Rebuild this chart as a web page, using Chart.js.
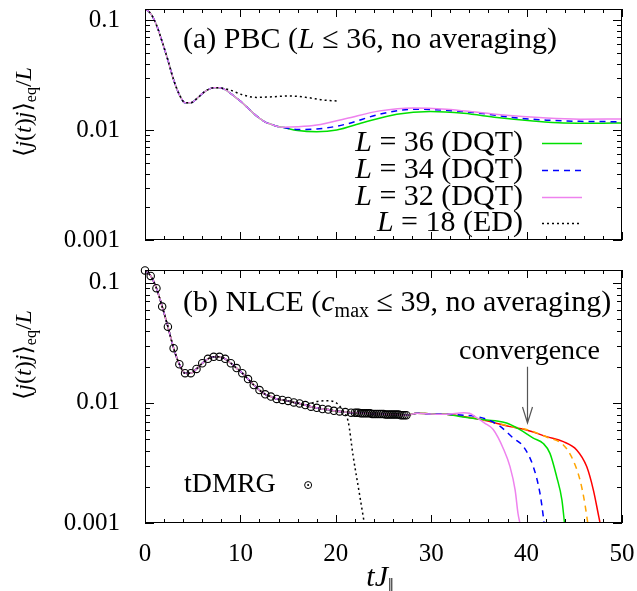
<!DOCTYPE html>
<html>
<head>
<meta charset="utf-8">
<script src="https://cdn.jsdelivr.net/npm/chart.js@4.4.1/dist/chart.umd.min.js"></script>
<style>
  body { margin: 0; background: #fff; }
  #wrap { position: relative; width: 637px; height: 591px; }
  canvas { position: absolute; left: 0; }
</style>
</head>
<body>
<div id="wrap">
  <canvas id="topChart" width="637" height="250" style="top:0"></canvas>
  <canvas id="botChart" width="637" height="341" style="top:250px"></canvas>
</div>
<script>
const earlyT = [0,0.6,1.2,1.8,2.4,3,3.6,4.2,4.8,5.4,6,6.6,7.2,7.8,8.4,9,9.6,10.2,10.8,11.4,12,12.6,13.2,13.8,14.4,15,15.6,16.2,16.8,17.4,18,18.6,19.2,19.8,20.4,21,21.6];
const earlyV = [0.127,0.1143,0.0903,0.0635,0.0432,0.0286,0.0210,0.0177,0.0177,0.0192,0.0214,0.0233,0.0242,0.0242,0.0233,0.0214,0.0195,0.0177,0.0158,0.0141,0.0128,0.0118,0.0113,0.0108,0.0106,0.0104,0.0101,0.0099,0.0096,0.0093,0.0091,0.0089,0.0088,0.0086,0.0085,0.0084,0.0083];
// dense tDMRG part
const denseT = [22,22.2,22.4,22.6,22.8,23,23.2,23.4,23.6,23.8,24,24.2,24.4,24.6,24.8,25,25.2,25.4,25.6,25.8,26,26.2,26.4,26.6,26.8,27,27.2,27.4];
const denseV = [0.0083,0.0083,0.0083,0.0082,0.0082,0.0082,0.0082,0.0082,0.0082,0.0081,0.0081,0.0081,0.0081,0.0081,0.0081,0.0081,0.0080,0.0080,0.0080,0.0080,0.0080,0.0080,0.0080,0.0080,0.0079,0.0079,0.0079,0.0079];

// (a) PBC tails
const pbcSizes = [36, 34, 32, 18];
const pbcMethods = ['DQT', 'DQT', 'DQT', 'ED'];
const l36T = [16,18,20.1,22.9,26.4,29.9,33.4,36.9,40.4,43.85,47.3,50];
const l36V = [0.0099,0.00966,0.0100,0.01172,0.01393,0.01472,0.0142,0.0130,0.01213,0.01156,0.0115,0.0116];
const l34T = [16,18,21.1,24.6,28.1,31.6,35.1,38.6,42.1,45.6,50];
const l34V = [0.0101,0.0102,0.01132,0.01393,0.01545,0.0151,0.01422,0.0130,0.0123,0.0120,0.0119];
const l32T = [16,18,21.1,24.6,28.1,31.6,35.1,38.6,42.1,45.6,50];
const l32V = [0.0107,0.0111,0.01274,0.01493,0.01589,0.01545,0.01442,0.01346,0.01283,0.01256,0.0126];
const l18T = [8.9,10.3,11.7,13.1,15.2,16.95,18.7,20.1];
const l18V = [0.0231,0.0208,0.0198,0.0200,0.0204,0.0198,0.01874,0.01836];

// (b) NLCE tails
const midT = [28.5,30,31.6];
const midV = [0.0082,0.0081,0.00805];
const violetT = [33.4,34,34.8,35.6,36.5,37.6,38.26,38.8,39.1,39.35,39.5];
const violetV = [0.0083,0.0082,0.0075,0.0068,0.0060,0.0041,0.00295,0.00188,0.0012,0.00095,0.0008];
const blueT = [33.4,34.8,36.2,37.2,38.6,39.7,40.7,41.4,41.75,41.85,42];
const blueV = [0.0079,0.0077,0.0071,0.0064,0.0051,0.0043,0.00295,0.00177,0.00113,0.00095,0.0008];
const greenT = [33,35.1,36.7,37.9,39.3,40.7,41.75,42.45,43.15,43.7,44,44.1];
const greenV = [0.0077,0.0073,0.0071,0.0068,0.0060,0.0051,0.0046,0.0038,0.00243,0.00156,0.00095,0.0008];
const orangeT = [33,35.1,38.26,40,42.1,43.85,44.7,45.6,46.1,46.45,46.6];
const orangeV = [0.0078,0.0073,0.0064,0.0060,0.0052,0.00447,0.00357,0.00228,0.00146,0.00095,0.0008];
const redT = [33,35.1,38.26,40,42.1,43.85,45.25,46.3,47,47.5,47.75,47.9];
const redV = [0.0078,0.0073,0.00635,0.00596,0.00524,0.00476,0.00406,0.00295,0.00188,0.0012,0.00095,0.0008];
const dotT = [18,19.05,20.1,20.8,21.3,21.8,22.5,22.96,23.1];
const dotV = [0.01026,0.01045,0.00994,0.00848,0.00699,0.00369,0.00171,0.00103,0.0009];

const yTicks = [0.001, 0.01, 0.1];
const xTicks = [0, 10, 20, 30, 40, 50];

const SERIF = '"Liberation Serif", "DejaVu Serif", serif';

function pts(ts, vs) { return ts.map((t, i) => ({ x: t, y: vs[i] })); }
function join(n, ts, vs) { return pts(earlyT.slice(0, n), earlyV.slice(0, n)).concat(pts(ts, vs)); }
const nlceBase = pts(earlyT, earlyV).concat(pts(denseT, denseV), pts(midT, midV));
function nlce(ts, vs) { return nlceBase.concat(pts(ts, vs)); }

function fontOf(s, size) {
  return (s.i ? 'italic ' : '') + (s.s ? Math.round(size * 0.68) : size) + 'px ' + SERIF;
}
function drawRich(ctx, segs, x, y, size, align) {
  let w = 0;
  for (const s of segs) { ctx.font = fontOf(s, size); w += ctx.measureText(s.t).width; }
  let cx = align === 'center' ? x - w / 2 : align === 'right' ? x - w : x;
  ctx.textAlign = 'left';
  ctx.textBaseline = 'middle';
  ctx.fillStyle = '#000';
  for (const s of segs) {
    ctx.font = fontOf(s, size);
    ctx.fillText(s.t, cx, y + (s.s ? size * 0.3 : 0));
    cx += ctx.measureText(s.t).width;
  }
}

const yTitle = [{t:'⟨'},{t:'j',i:1},{t:'('},{t:'t',i:1},{t:')'},{t:'j',i:1},{t:'⟩'},{t:'eq',s:1},{t:'/'},{t:'L',i:1}];

function drawFrame(chart) {
  const { ctx, chartArea: a, scales: { x, y } } = chart;
  ctx.save();
  ctx.strokeStyle = '#000';
  ctx.lineWidth = 1;
  ctx.setLineDash([]);
  ctx.strokeRect(a.left + 0.5, a.top + 0.5, a.right - a.left - 1, a.bottom - a.top - 1);
  ctx.beginPath();
  for (let t = 0; t <= 50; t += 2) {
    const px = Math.round(x.getPixelForValue(t)) + 0.5;
    const len = t % 10 === 0 ? 8 : 4;
    ctx.moveTo(px, a.bottom); ctx.lineTo(px, a.bottom - len);
    ctx.moveTo(px, a.top); ctx.lineTo(px, a.top + len);
  }
  for (const dec of yTicks) {
    for (let m = 1; m <= 9; m++) {
      const v = m * dec;
      if (v > y.max) break;
      const py = Math.round(y.getPixelForValue(v)) + 0.5;
      const len = m === 1 ? 9 : 5;
      ctx.moveTo(a.left, py); ctx.lineTo(a.left + len, py);
      ctx.moveTo(a.right, py); ctx.lineTo(a.right - len, py);
    }
  }
  ctx.stroke();
  ctx.restore();
}

function scalesFor(ymax, showX) {
  return {
    x: {
      type: 'linear', min: 0, max: 50,
      grid: { display: false }, border: { display: false },
      afterBuildTicks: s => { s.ticks = xTicks.map(v => ({ value: v })); },
      ticks: { display: showX, color: '#000', font: { family: SERIF, size: 25 }, padding: 8, maxRotation: 0, autoSkip: false },
      afterFit: s => { s.height = showX ? 68 : 10; s.paddingLeft = 0; s.paddingRight = 0; }
    },
    y: {
      type: 'logarithmic', min: 0.001, max: ymax,
      grid: { display: false }, border: { display: false },
      afterBuildTicks: s => { s.ticks = yTicks.map(v => ({ value: v })); },
      ticks: { color: '#000', font: { family: SERIF, size: 25 }, padding: 17, callback: v => String(v) },
      afterFit: s => { s.width = 145; s.paddingTop = 0; s.paddingBottom = 0; }
    }
  };
}

const line = (data, color, dash, order) => ({
  data, showLine: true, borderColor: color, borderWidth: 1.5, borderDash: dash || [],
  pointRadius: 0, cubicInterpolationMode: 'monotone', order
});

// ---- (a) PBC ----
const topSets = [
  line(join(25, l36T, l36V), '#00e000', null, 4),
  line(join(25, l34T, l34V), '#0000ff', [6, 5], 3),
  line(join(25, l32T, l32V), '#ee82ee', null, 2),
  line(join(14, l18T, l18V), '#000000', [2, 3], 1)
];

const topDeco = {
  id: 'topDeco',
  afterDraw(chart) {
    const { ctx, chartArea: a } = chart;
    drawFrame(chart);
    ctx.save();
    drawRich(ctx, [{t:'(a) PBC ('},{t:'L',i:1},{t:' ≤ 36, no averaging)'}], a.left + 38, a.top + 31, 30, 'left');
    const rows = [143, 170, 197, 223];
    topSets.forEach((ds, i) => {
      const yy = rows[i];
      drawRich(ctx, [{t:'L',i:1},{t:' = ' + pbcSizes[i] + ' (' + pbcMethods[i] + ')'}], 523, yy, 30, 'right');
      ctx.strokeStyle = ds.borderColor;
      ctx.lineWidth = 1.5;
      ctx.setLineDash(ds.borderDash);
      ctx.beginPath(); ctx.moveTo(542, yy + 0.5); ctx.lineTo(582, yy + 0.5); ctx.stroke();
    });
    ctx.setLineDash([]);
    ctx.translate(25, 112);
    ctx.rotate(-Math.PI / 2);
    drawRich(ctx, yTitle, 0, 0, 24, 'center');
    ctx.restore();
  }
};

new Chart(document.getElementById('topChart'), {
  type: 'scatter',
  data: { datasets: topSets },
  options: {
    responsive: false, animation: false,
    layout: { padding: { top: 9, right: 15, left: 0, bottom: 0 } },
    plugins: { legend: { display: false }, tooltip: { enabled: false } },
    scales: scalesFor(0.126, false)
  },
  plugins: [topDeco]
});

// ---- (b) NLCE ----
const botSets = [
  {
    data: pts(earlyT, earlyV).concat(pts(denseT, denseV)),
    showLine: false, pointRadius: 3.7, pointStyle: 'circle', borderColor: '#000',
    backgroundColor: 'rgba(0,0,0,0)', borderWidth: 1.1, clip: false, order: 0
  },
  line(join(29, dotT, dotV), '#000000', [2, 3], 1),
  line(nlce(violetT, violetV), '#ee82ee', null, 2),
  line(nlce(blueT, blueV), '#0000ff', [6, 5], 3),
  line(nlce(greenT, greenV), '#00e000', null, 4),
  line(nlce(orangeT, orangeV), '#ffa500', [6, 5], 5),
  line(nlce(redT, redV), '#ff0000', null, 6)
];

const botDeco = {
  id: 'botDeco',
  afterDraw(chart) {
    const { ctx, chartArea: a, scales: { x, y } } = chart;
    drawFrame(chart);
    ctx.save();
    drawRich(ctx, [{t:'(b) NLCE ('},{t:'c',i:1},{t:'max',s:1},{t:' ≤ 39, no averaging)'}], a.left + 38, a.top + 33, 30, 'left');
    // convergence arrow
    const ax = Math.round(x.getPixelForValue(40)) + 0.5;
    const y0 = y.getPixelForValue(0.02), y1 = y.getPixelForValue(0.0068);
    drawRich(ctx, [{t:'convergence'}], x.getPixelForValue(40.3), y.getPixelForValue(0.0266), 28, 'center');
    ctx.strokeStyle = '#555';
    ctx.lineWidth = 1.2;
    ctx.beginPath();
    ctx.moveTo(ax, y0); ctx.lineTo(ax, y1);
    ctx.moveTo(ax - 5, y1 - 16); ctx.lineTo(ax, y1); ctx.lineTo(ax + 5, y1 - 16);
    ctx.stroke();
    // tDMRG key
    const ky = y.getPixelForValue(0.00207);
    drawRich(ctx, [{t:'tDMRG'}], x.getPixelForValue(8.9), ky, 28, 'center');
    const kx = x.getPixelForValue(17.1);
    ctx.strokeStyle = '#000'; ctx.lineWidth = 1;
    ctx.beginPath(); ctx.arc(kx, ky, 3.5, 0, Math.PI * 2); ctx.stroke();
    ctx.fillStyle = '#000';
    ctx.beginPath(); ctx.arc(kx, ky, 1, 0, Math.PI * 2); ctx.fill();
    // axis titles
    drawRich(ctx, [{t:'t',i:1},{t:'J',i:1},{t:'‖',s:1}], 380, 328, 30, 'center');
    ctx.translate(25, 105);
    ctx.rotate(-Math.PI / 2);
    drawRich(ctx, yTitle, 0, 0, 24, 'center');
    ctx.restore();
  }
};

new Chart(document.getElementById('botChart'), {
  type: 'scatter',
  data: { datasets: botSets },
  options: {
    responsive: false, animation: false,
    layout: { padding: { top: 20, right: 15, left: 0, bottom: 0 } },
    plugins: { legend: { display: false }, tooltip: { enabled: false } },
    scales: scalesFor(0.128, true)
  },
  plugins: [botDeco]
});
</script>
</body>
</html>
